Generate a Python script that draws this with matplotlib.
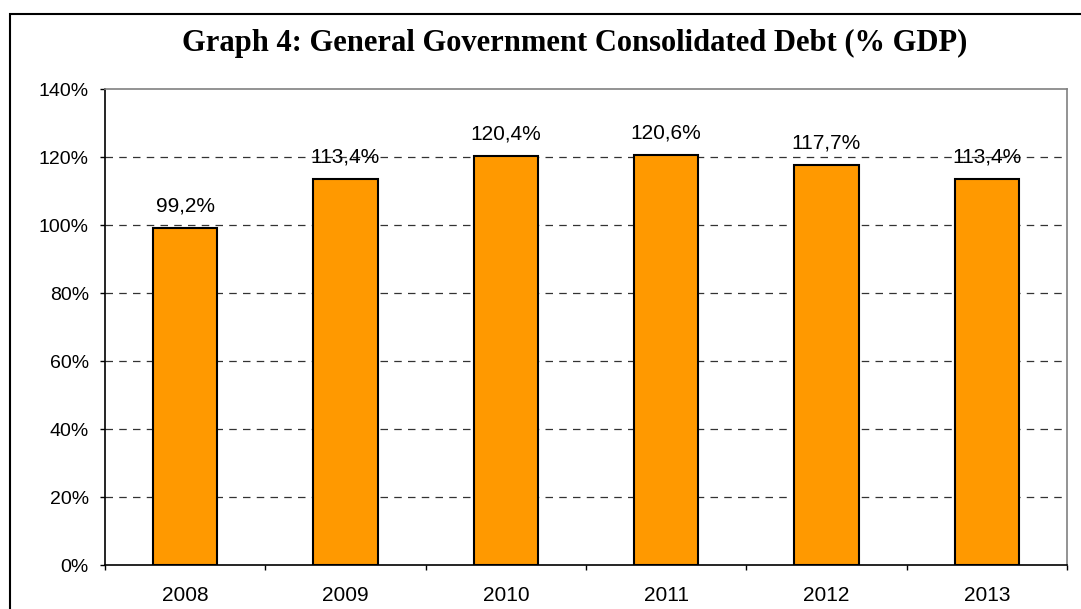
import matplotlib.pyplot as plt
from matplotlib.patches import Rectangle

# Дані
years = ["2008", "2009", "2010", "2011", "2012", "2013"]
debt = [99.2, 113.4, 120.4, 120.6, 117.7, 113.4]
labels = ["99,2%", "113,4%", "120,4%", "120,6%", "117,7%", "113,4%"]
yticks = [0, 20, 40, 60, 80, 100, 120, 140]

plt.rcParams['font.family'] = ['Liberation Sans', 'DejaVu Sans']

fig = plt.figure(figsize=(10.81, 6.09), dpi=100)
# рамка навколо всього графіка
fig.patches.append(Rectangle((10 / 1081, -0.01), 1.02, 1 - 14 / 609 + 0.01,
                             transform=fig.transFigure, fill=False,
                             edgecolor='black', linewidth=1.5))

ax = fig.add_axes([105 / 1081, 1 - 565 / 609, (1067 - 105) / 1081, (565 - 89) / 609])
x = range(len(years))
ax.bar(x, debt, width=0.4, color='#FF9900', edgecolor='black', linewidth=1.5, zorder=3)

for i, (v, t) in enumerate(zip(debt, labels)):
    ax.annotate(t, (i, v), xytext=(0, 9), textcoords='offset points',
                ha='center', va='bottom', fontsize=15)

ax.set_xlim(-0.5, len(years) - 0.5)
ax.set_ylim(0, 140)
ax.set_yticks(yticks)
ax.set_yticklabels([f"{t}%" for t in yticks], fontsize=14)
ax.set_xticks(list(x))
ax.set_xticklabels(years, fontsize=15)
ax.tick_params(axis='x', length=0, pad=15)
ax.tick_params(axis='y', length=3.6, width=1, pad=8)
# поділки між категоріями
ax.set_xticks([i - 0.5 for i in range(len(years) + 1)], minor=True)
ax.tick_params(axis='x', which='minor', length=3.6, width=1, direction='out')

for t in yticks[1:-1]:
    ax.axhline(t, color='#333333', linestyle=(0, (6, 5)), linewidth=0.9, zorder=1)

ax.spines['left'].set_color('black')
ax.spines['bottom'].set_color('black')
ax.spines['top'].set_color('#808080')
ax.spines['right'].set_color('#808080')
for s in ax.spines.values():
    s.set_linewidth(1.2)

fig.text(575 / 1081, 1 - 43 / 609, "Graph 4: General Government Consolidated Debt (% GDP)",
         ha='center', va='center', fontsize=22, fontweight='bold',
         family=['Liberation Serif', 'DejaVu Serif'])

fig.savefig('out.png', dpi=100)
